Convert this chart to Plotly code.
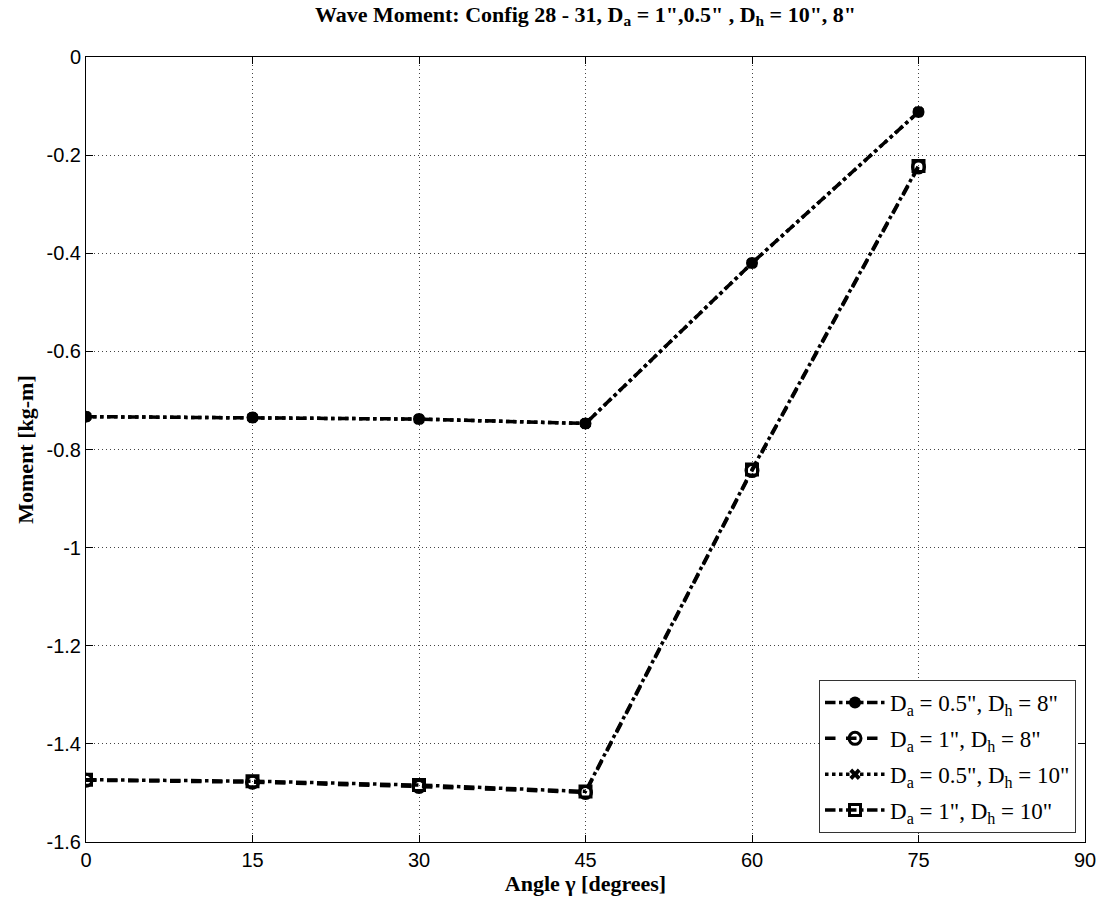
import plotly.graph_objects as go

angles = [0, 15, 30, 45, 60, 75]
m_05_8 = [-0.733, -0.735, -0.738, -0.747, -0.420, -0.112]
m_1_8 = [-1.474, -1.478, -1.487, -1.499, -0.843, -0.224]
m_05_10 = [-0.733, -0.735, -0.738, -0.747, -0.420, -0.112]
m_1_10 = [-1.473, -1.476, -1.484, -1.497, -0.841, -0.222]

names = ['D<sub>a</sub> = 0.5", D<sub>h</sub> = 8"',
         'D<sub>a</sub> = 1", D<sub>h</sub> = 8"',
         'D<sub>a</sub> = 0.5", D<sub>h</sub> = 10"',
         'D<sub>a</sub> = 1", D<sub>h</sub> = 10"']

x_ticks = [0, 15, 30, 45, 60, 75, 90]
y_ticks = [0, -0.2, -0.4, -0.6, -0.8, -1, -1.2, -1.4, -1.6]
y_ticktext = ["0", "-0.2", "-0.4", "-0.6", "-0.8", "-1", "-1.2", "-1.4", "-1.6"]

series = [
    (m_05_8, names[0], "dashdot", dict(symbol="circle", size=12, color="black")),
    (m_1_8, names[1], "dash", dict(symbol="circle-open", size=12, color="black", line=dict(width=3, color="black"))),
    (m_05_10, names[2], "dot", dict(symbol="x", size=10, color="black")),
    (m_1_10, names[3], "dashdot", dict(symbol="square-open", size=11, color="black", line=dict(width=3, color="black"))),
]

fig = go.Figure()
for i, (ys, nm, dash, mk) in enumerate(series):
    fig.add_trace(go.Scatter(x=angles, y=ys, name=nm, mode="lines+markers",
                             legendgroup="g%d" % i,
                             line=dict(color="black", width=3.5, dash=dash),
                             marker=mk))

serif = "Liberation Serif, Times New Roman, serif"
axis_common = dict(showline=True, linecolor="black", linewidth=1, mirror="ticks",
                   ticks="inside", ticklen=7, tickcolor="black",
                   showgrid=True, gridcolor="#444444", griddash="1px,3px", gridwidth=1,
                   zeroline=False,
                   tickfont=dict(family="Liberation Sans, Arial, sans-serif", size=20, color="black"))

fig.update_layout(
    width=1108, height=907,
    paper_bgcolor="white", plot_bgcolor="white",
    margin=dict(l=86, r=16, t=57, b=65),
    title=dict(text='<b>Wave Moment: Config 28 - 31, D<sub>a</sub> = 1",0.5" , D<sub>h</sub> = 10", 8"</b>',
               x=0.5, xref="paper", xanchor="center", y=0.993, yanchor="top",
               font=dict(family=serif, size=22, color="black")),
    xaxis=dict(range=[0, 90], tickvals=x_ticks, ticktext=[str(v) for v in x_ticks],
               title=dict(text="<b>Angle γ [degrees]</b>", standoff=2,
                          font=dict(family=serif, size=22, color="black")),
               **axis_common),
    yaxis=dict(range=[-1.6, 0], tickvals=y_ticks, ticktext=y_ticktext,
               title=dict(text="<b>Moment [kg-m]</b>", standoff=6,
                          font=dict(family=serif, size=22, color="black")),
               **axis_common),
    legend=dict(x=0.991, y=0.0115, xanchor="right", yanchor="bottom",
                bgcolor="white", bordercolor="#333333", borderwidth=1,
                font=dict(family=serif, size=23, color="black"),
                itemwidth=60, tracegroupgap=3),
    showlegend=True,
)

fig.write_html("out.html")
